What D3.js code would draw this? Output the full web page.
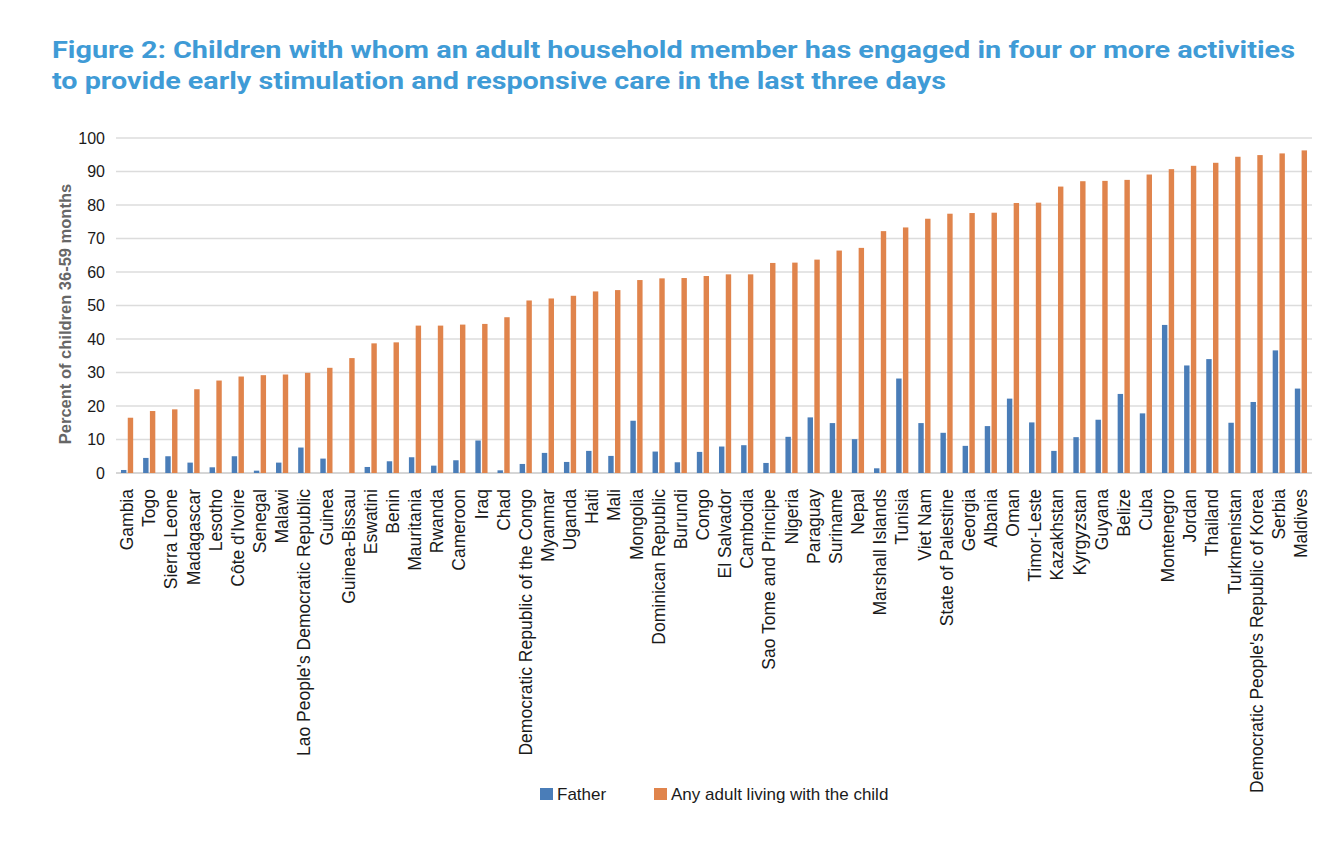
<!DOCTYPE html>
<html>
<head>
<meta charset="utf-8">
<script src="https://cdn.jsdelivr.net/npm/d3@7"></script>
<style>
  html, body { margin: 0; padding: 0; background: #fff; }
  #chart { width: 1326px; height: 846px; }
</style>
</head>
<body>
<div id="chart"></div>
<script>
// ============================================================================
// Figure 2 – grouped bars, father vs any adult
// ============================================================================

const countries = [
    "Gambia", "Togo", "Sierra Leone", "Madagascar", "Lesotho", "Côte d'Ivoire",
    "Senegal", "Malawi", "Lao People's Democratic Republic", "Guinea", "Guinea-Bissau",
    "Eswatini", "Benin", "Mauritania", "Rwanda", "Cameroon", "Iraq", "Chad",
    "Democratic Republic of the Congo", "Myanmar", "Uganda", "Haiti", "Mali",
    "Mongolia", "Dominican Republic", "Burundi", "Congo", "El Salvador", "Cambodia",
    "Sao Tome and Principe", "Nigeria", "Paraguay", "Suriname", "Nepal",
    "Marshall Islands", "Tunisia", "Viet Nam", "State of Palestine", "Georgia",
    "Albania", "Oman", "Timor-Leste", "Kazakhstan", "Kyrgyzstan", "Guyana", "Belize",
    "Cuba", "Montenegro", "Jordan", "Thailand", "Turkmenistan",
    "Democratic People's Republic of Korea", "Serbia", "Maldives"
];

const father = [
    0.9, 4.5, 5.0, 3.1, 1.7, 5.0, 0.7, 3.1, 7.6, 4.3, 0,
    1.8, 3.5, 4.7, 2.2, 3.8, 9.7, 0.8,
    2.7, 6.0, 3.3, 6.6, 5.1,
    15.6, 6.4, 3.2, 6.3, 7.9, 8.3,
    3.0, 10.8, 16.6, 14.9, 10.1,
    1.4, 28.2, 14.9, 12.0, 8.1,
    14.0, 22.2, 15.1, 6.6, 10.7, 15.9, 23.6,
    17.8, 44.2, 32.1, 34.0, 15.0,
    21.2, 36.6, 25.2
];

const anyAdult = [
    16.5, 18.5, 19.0, 25.0, 27.6, 28.8, 29.2, 29.4, 29.9, 31.4, 34.3,
    38.7, 39.0, 44.0, 44.0, 44.3, 44.5, 46.5,
    51.5, 52.1, 52.9, 54.2, 54.6,
    57.6, 58.1, 58.2, 58.8, 59.3, 59.3,
    62.7, 62.8, 63.7, 66.4, 67.2,
    72.2, 73.3, 75.9, 77.4, 77.6,
    77.7, 80.6, 80.7, 85.5, 87.1, 87.2, 87.5,
    89.1, 90.7, 91.7, 92.6, 94.4,
    94.9, 95.4, 96.3
];

const seriesNames = ["Father", "Any adult living with the child"];
const yTicks = [0, 10, 20, 30, 40, 50, 60, 70, 80, 90, 100];

const titleLines = [
    "Figure 2: Children with whom an adult household member has engaged in four or more activities",
    "to provide early stimulation and responsive care in the last three days"
];

const colors = ["#4a7db8", "#e0844c"];

const W = 1326, H = 846;
const plot = { left: 116, right: 1312, top: 138, bottom: 473 };

const svg = d3.select("#chart").append("svg")
    .attr("width", W)
    .attr("height", H)
    .attr("viewBox", `0 0 ${W} ${H}`);

// title (stretched to the width of the original heading)
const titleWidths = [1243, 894];
svg.append("g").selectAll("text")
    .data(titleLines)
    .join("text")
    .attr("x", 52)
    .attr("y", (d, i) => 58 + i * 31)
    .attr("textLength", (d, i) => titleWidths[i])
    .attr("lengthAdjust", "spacingAndGlyphs")
    .text(d => d)
    .style("font-family", "Roboto, 'Noto Sans', sans-serif")
    .style("font-weight", "700")
    .style("font-size", "24px")
    .style("fill", "#3f9bd6");

const x0 = d3.scaleBand()
    .domain(countries)
    .range([plot.left, plot.right])
    .paddingInner(0.45)
    .paddingOuter(0.225);

const x1 = d3.scaleBand()
    .domain([0, 1])
    .range([0, x0.bandwidth()])
    .paddingInner(0.2);

const y = d3.scaleLinear()
    .domain([0, 100])
    .range([plot.bottom, plot.top]);

// gridlines
svg.append("g")
    .selectAll("line")
    .data(yTicks)
    .join("line")
    .attr("x1", plot.left)
    .attr("x2", plot.right)
    .attr("y1", d => y(d))
    .attr("y2", d => y(d))
    .attr("stroke", d => d === 0 ? "#c8c8c8" : "#dcdcdc")
    .attr("stroke-width", 1.6);

// y axis labels
const yAxis = svg.append("g")
    .attr("transform", `translate(${plot.left},0)`)
    .call(d3.axisLeft(y).tickValues(yTicks).tickSize(0).tickPadding(11));
yAxis.select(".domain").remove();
yAxis.selectAll("text")
    .style("font-family", "'Liberation Sans', Arial, sans-serif")
    .style("font-size", "16px")
    .style("fill", "#1a1a1a");

// y axis title
svg.append("text")
    .attr("transform", `translate(71,314) rotate(-90)`)
    .attr("text-anchor", "middle")
    .text("Percent of children 36-59 months")
    .style("font-family", "'Liberation Sans', Arial, sans-serif")
    .style("font-weight", "700")
    .style("font-size", "16.5px")
    .style("fill", "#666");

// bars
const groups = svg.append("g")
    .selectAll("g")
    .data(countries.map((c, i) => ({ c, vals: [father[i], anyAdult[i]] })))
    .join("g")
    .attr("transform", d => `translate(${x0(d.c)},0)`);

groups.selectAll("rect")
    .data(d => d.vals.map((v, k) => ({ v, k })))
    .join("rect")
    .attr("x", d => x1(d.k))
    .attr("width", x1.bandwidth())
    .attr("y", d => y(d.v))
    .attr("height", d => y(0) - y(d.v))
    .attr("fill", d => colors[d.k]);

// x axis labels
const xAxis = svg.append("g")
    .attr("transform", `translate(0,${plot.bottom})`)
    .call(d3.axisBottom(x0).tickSize(0).tickPadding(0));
xAxis.select(".domain").remove();
xAxis.selectAll("text")
    .attr("transform", "rotate(-90)")
    .attr("text-anchor", "end")
    .attr("x", -16)
    .attr("y", 0)
    .attr("dy", "0.35em")
    .style("font-family", "'Liberation Sans', Arial, sans-serif")
    .style("font-size", "17.5px")
    .style("fill", "#1a1a1a");

// legend
const legendX = [540, 654];
const legend = svg.append("g")
    .selectAll("g")
    .data(seriesNames)
    .join("g")
    .attr("transform", (d, i) => `translate(${legendX[i]},788)`);
legend.append("rect")
    .attr("width", 13)
    .attr("height", 12)
    .attr("fill", (d, i) => colors[i]);
legend.append("text")
    .attr("x", 17)
    .attr("y", 12)
    .text(d => d)
    .style("font-family", "'Liberation Sans', Arial, sans-serif")
    .style("font-size", "17px")
    .style("fill", "#1a1a1a");
</script>
</body>
</html>
